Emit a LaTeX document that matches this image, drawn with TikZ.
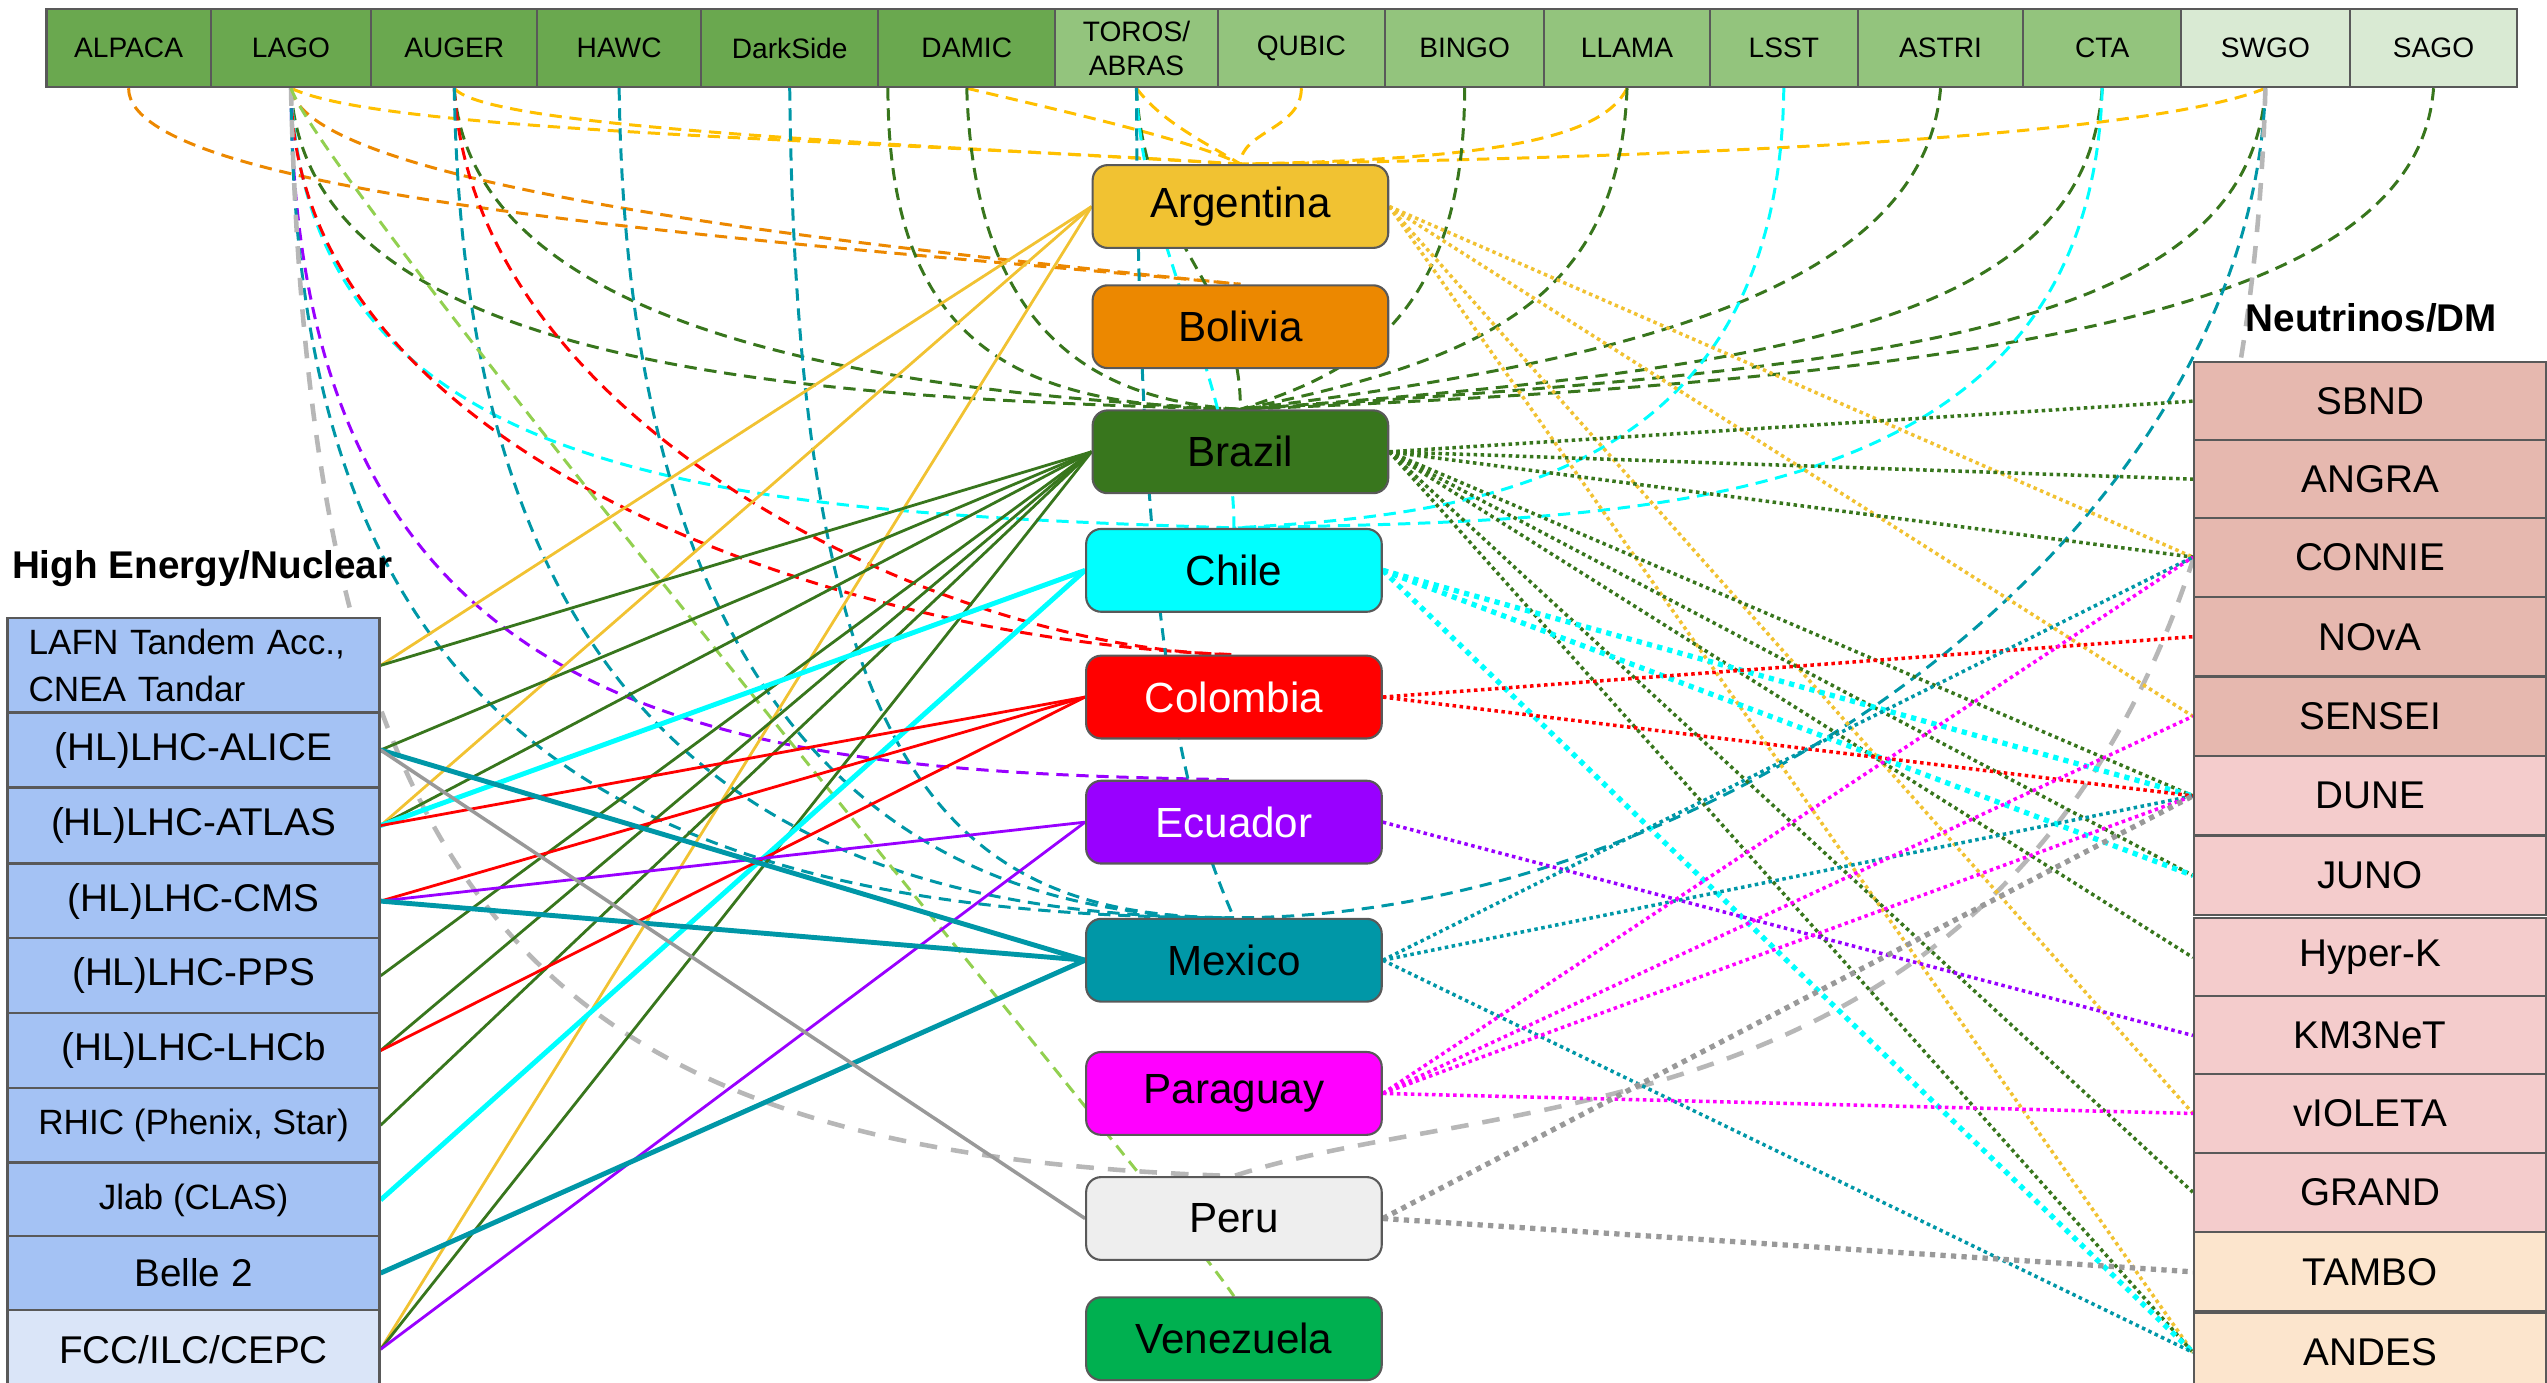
\documentclass[tikz,border=0pt]{standalone}
\usepackage{fontspec}
\setmainfont{Liberation Sans}
\usepackage{tikz}
\usetikzlibrary{positioning,calc,backgrounds}
\definecolor{topdark}  {RGB}{106,168, 79}
\definecolor{toplight} {RGB}{147,196,125}
\definecolor{toppale}  {RGB}{217,234,211}
\definecolor{heblue}   {RGB}{164,194,244}
\definecolor{hepale}   {RGB}{218,229,248}
\definecolor{nurose}   {RGB}{230,184,175}
\definecolor{nupink}   {RGB}{244,204,204}
\definecolor{nupeach}  {RGB}{252,229,205}
\definecolor{argentina}{RGB}{241,194, 50}
\definecolor{argdash}  {RGB}{255,192,  0}
\definecolor{bolivia}  {RGB}{236,136,  0}
\definecolor{brazil}   {RGB}{ 56,118, 29}
\definecolor{chile}    {RGB}{  0,255,255}
\definecolor{colombia} {RGB}{255,  0,  0}
\definecolor{ecuador}  {RGB}{153,  0,255}
\definecolor{mexico}   {RGB}{  0,151,167}
\definecolor{paraguay} {RGB}{255,  0,255}
\definecolor{peru}     {RGB}{238,238,238}
\definecolor{perusolid}{RGB}{153,153,153}
\definecolor{perudash} {RGB}{183,183,183}
\definecolor{venezuela}{RGB}{  0,176, 80}
\definecolor{vendash}  {RGB}{146,208, 80}
\definecolor{edge}     {RGB}{ 89, 89, 89}

\begin{document}
\begin{tikzpicture}[
  x=0.16244mm, y=-0.16244mm,
  font=\fontsize{11}{13}\selectfont,
  facility/.style={draw=edge,line width=0.6pt,fill=topdark,inner sep=0pt,minimum height=7.8mm,align=center,font=\fontsize{8}{9.7}\selectfont},
  hecomponent/.style={draw=edge,line width=0.6pt,fill=heblue,inner sep=0pt,minimum width=37.2mm,minimum height=7.5mm,align=center},
  nucomponent/.style={draw=edge,line width=0.6pt,fill=nurose,inner sep=0pt,minimum width=35.25mm,minimum height=7.9mm,align=center},
  country/.style={draw=edge,line width=0.6pt,rounded corners=1.5mm,inner sep=0pt,minimum width=29.56mm,minimum height=8.28mm,font=\fontsize{12}{14}\selectfont},
  header/.style={font=\fontsize{11}{13}\selectfont\bfseries,inner sep=0pt},
  small/.style={font=\fontsize{10}{13.4}\selectfont},
  dashlink/.style={line width=0.85pt,dash pattern=on 3.5pt off 2.2pt},
  graydash/.style={line width=1.3pt,dash pattern=on 5pt off 4pt,perudash},
  solidlink/.style={line width=0.8pt},
  heavylink/.style={line width=1.4pt},
  dotlink/.style={line width=1pt,dash pattern=on 1pt off 1pt},
  heavydot/.style={line width=1.5pt,dash pattern=on 1.5pt off 1.5pt},
]

  \useasboundingbox (0,0) rectangle (1568,851);

  % Facilities on top
  \node[below right,facility,minimum width=16.41mm] (alpaca) at (28,5) {ALPACA};
  \node[below right,facility,minimum width=16.08mm] (lago) at (129,5) {LAGO};
  \node[below right,facility,minimum width=16.57mm] (auger) at (228,5) {AUGER};
  \node[below right,facility,minimum width=16.41mm] (hawc) at (330,5) {HAWC};
  \node[below right,facility,minimum width=17.71mm] (darkside) at (431,5) {DarkSide};
  \node[below right,facility,minimum width=17.71mm] (damic) at (540,5) {DAMIC};
  \node[below right,facility,fill=toplight,minimum width=16.24mm] (toros) at (649,5) {TOROS/\\ABRAS};
  \node[below right,facility,fill=toplight,minimum width=16.73mm] (qubic) at (749,5) {QUBIC};
  \node[below right,facility,fill=toplight,minimum width=15.92mm] (bingo) at (852,5) {BINGO};
  \node[below right,facility,fill=toplight,minimum width=16.57mm] (llama) at (950,5) {LLAMA};
  \node[below right,facility,fill=toplight,minimum width=14.78mm] (lsst) at (1052,5) {LSST};
  \node[below right,facility,fill=toplight,minimum width=16.57mm] (astri) at (1143,5) {ASTRI};
  \node[below right,facility,fill=toplight,minimum width=15.76mm] (cta) at (1245,5) {CTA};
  \node[below right,facility,fill=toppale,minimum width=16.89mm] (swgo) at (1342,5) {SWGO};
  \node[below right,facility,fill=toppale,minimum width=16.73mm] (sago) at (1446,5) {SAGO};

  % High energy / nuclear column
  \node[right,header] (helabel) at (7,350) {High Energy/Nuclear};
  \node[below right,hecomponent,minimum height=9.42mm,align=left,text width=33mm,small] (lafn) at (4,380) {LAFN Tandem Acc.,\\CNEA Tandar};
  \node[below right,hecomponent] (alice) at (4,438) {(HL)LHC-ALICE};
  \node[below right,hecomponent] (atlas) at (4,484.5) {(HL)LHC-ATLAS};
  \node[below right,hecomponent] (cms) at (4,531) {(HL)LHC-CMS};
  \node[below right,hecomponent] (pps) at (4,577) {(HL)LHC-PPS};
  \node[below right,hecomponent] (lhcb) at (4,623) {(HL)LHC-LHCb};
  \node[below right,hecomponent,small] (rhic) at (4,669) {RHIC (Phenix, Star)};
  \node[below right,hecomponent,small] (jlab) at (4,715) {Jlab (CLAS)};
  \node[below right,hecomponent] (belle) at (4,760) {Belle 2};
  \node[below right,hecomponent,fill=hepale,minimum height=7.8mm] (fcc) at (4,806) {FCC/ILC/CEPC};

  % Neutrinos / DM column
  \node[right,header] (nulabel) at (1382,196) {Neutrinos/DM};
  \node[below right,nucomponent] (sbnd) at (1350,222) {SBND};
  \node[below right,nucomponent] (angra) at (1350,270) {ANGRA};
  \node[below right,nucomponent] (connie) at (1350,318) {CONNIE};
  \node[below right,nucomponent] (nova) at (1350,367) {NOvA};
  \node[below right,nucomponent] (sensei) at (1350,416) {SENSEI};
  \node[below right,nucomponent,fill=nupink] (dune) at (1350,465) {DUNE};
  \node[below right,nucomponent,fill=nupink] (juno) at (1350,514) {JUNO};
  \node[below right,nucomponent,fill=nupink] (hyperk) at (1350,564.5) {Hyper-K};
  \node[below right,nucomponent,fill=nupink] (km3net) at (1350,612.5) {KM3NeT};
  \node[below right,nucomponent,fill=nupink] (violeta) at (1350,660.5) {vIOLETA};
  \node[below right,nucomponent,fill=nupink] (grand) at (1350,709) {GRAND};
  \node[below right,nucomponent,fill=nupeach] (tambo) at (1350,758) {TAMBO};
  \node[below right,nucomponent,fill=nupeach] (andes) at (1350,807.6) {ANDES};

  % Countries
  \node[below right,country,fill=argentina] (arg) at (672,101) {Argentina};
  \node[below right,country,fill=bolivia] (bol) at (672,175) {Bolivia};
  \node[below right,country,fill=brazil] (bra) at (672,252) {Brazil};
  \node[below right,country,fill=chile] (chi) at (668,325) {Chile};
  \node[below right,country,fill=colombia,text=white] (col) at (668,403) {Colombia};
  \node[below right,country,fill=ecuador,text=white] (ecu) at (668,480) {Ecuador};
  \node[below right,country,fill=mexico] (mex) at (668,565) {Mexico};
  \node[below right,country,fill=paraguay] (par) at (668,647) {Paraguay};
  \node[below right,country,fill=peru] (per) at (668,724) {Peru};
  \node[below right,country,fill=venezuela] (ven) at (668,798) {Venezuela};

  \begin{scope}[on background layer]
  % Dashed links from the facilities
  \draw[dashlink,argdash] (lago.south) .. controls +(57,27) and +(-250,-16) .. (arg.north);
  \draw[dashlink,argdash] (auger.south) .. controls +(20,25) and +(-200,-12) .. (arg.north);
  \draw[dashlink,argdash] (damic.south) .. controls +(50,12) and +(-30,-15) .. (arg.north);
  \draw[dashlink,argdash] (toros.south) .. controls +(15,20) and +(-25,-15) .. (arg.north);
  \draw[dashlink,argdash] (qubic.south) .. controls +(0,25) and +(0,-20) .. (arg.north);
  \draw[dashlink,argdash] (llama.south) .. controls +(-15,30) and +(160,-3) .. (arg.north);
  \draw[dashlink,argdash] (swgo.south) .. controls +(-60,25) and +(350,-5) .. (arg.north);

  \draw[dashlink,bolivia] (alpaca.south) .. controls +(0,70) and +(-263,-25) .. (bol.north);
  \draw[dashlink,bolivia] (lago.south) .. controls +(10,60) and +(-250,-25) .. (bol.north);

  \draw[dashlink,brazil] (lago.south) .. controls +(10,175) and +(-263,-7) .. (bra.north);
  \draw[dashlink,brazil] (auger.south) .. controls +(10,150) and +(-220,-10) .. (bra.north);
  \draw[dashlink,brazil] ($(damic.south west)!0.06!(damic.south east)$) .. controls +(0,170) and +(-123,-2) .. (bra.north);
  \draw[dashlink,brazil] (damic.south) .. controls +(5,160) and +(-80,-5) .. (bra.north);
  \draw[dashlink,brazil] (toros.south) .. controls +(5,97) and +(0,-80) .. (bra.north);
  \draw[dashlink,brazil] (bingo.south) .. controls +(0,150) and +(60,-20) .. (bra.north);
  \draw[dashlink,brazil] (llama.south) .. controls +(-5,130) and +(150,-30) .. (bra.north);
  \draw[dashlink,brazil] (astri.south) .. controls +(-10,120) and +(250,-30) .. (bra.north);
  \draw[dashlink,brazil] (cta.south) .. controls +(-10,140) and +(350,-25) .. (bra.north);
  \draw[dashlink,brazil] (swgo.south) .. controls +(-10,150) and +(400,-25) .. (bra.north);
  \draw[dashlink,brazil] (sago.south) .. controls +(-10,130) and +(500,-20) .. (bra.north);

  \draw[dashlink,chile] (lago.south) .. controls +(10,245) and +(-308,-10) .. (chi.north);
  \draw[dashlink,chile] (toros.south) .. controls +(3,97) and +(0,-95) .. (chi.north);
  \draw[dashlink,chile] (lsst.south) .. controls +(-3,245) and +(142,-8) .. (chi.north);
  \draw[dashlink,chile] (cta.south) .. controls +(-8,267) and +(242,-5) .. (chi.north);

  \draw[dashlink,colombia] (lago.south) .. controls +(1.5,227) and +(-238.5,-8) .. (col.north);
  \draw[dashlink,colombia] (auger.south) .. controls +(11,207) and +(-178.5,-3) .. (col.north);

  \draw[dashlink,ecuador] (lago.south) .. controls +(1.5,397) and +(-308.5,-5) .. (ecu.north);

  \draw[dashlink,mexico] (lago.south) .. controls +(1.5,367) and +(-408.5,0) .. (mex.north);
  \draw[dashlink,mexico] (auger.south) .. controls +(6,367) and +(-308.5,0) .. (mex.north);
  \draw[dashlink,mexico] (hawc.south) .. controls +(4.5,347) and +(-238.5,0) .. (mex.north);
  \draw[dashlink,mexico] (darkside.south) .. controls +(4.5,417) and +(-178.5,0) .. (mex.north);
  \draw[dashlink,mexico] (toros.south) .. controls +(1,347) and +(-28.5,-65) .. (mex.north);
  \draw[dashlink,mexico] (swgo.south) .. controls +(-9,277) and +(291.5,0) .. (mex.north);

  \draw[graydash] (lago.south) .. controls +(11.5,507) and +(-428.5,-14) .. (per.north);
  \draw[graydash] (swgo.south) .. controls +(-19,667) and +(191.5,-64) .. (per.north);

  \draw[dashlink,vendash] (lago.south) .. controls +(20,60) and +(-40,-60) .. (ven.north);

  % Solid links to high energy / nuclear
  \draw[solidlink,argentina] (lafn.east) -- (arg.west);
  \draw[solidlink,argentina] (atlas.east) -- (arg.west);
  \draw[solidlink,argentina] (fcc.east) -- (arg.west);

  \draw[solidlink,brazil] (lafn.east) -- (bra.west);
  \draw[solidlink,brazil] (alice.east) -- (bra.west);
  \draw[solidlink,brazil] (atlas.east) -- (bra.west);
  \draw[solidlink,brazil] (pps.east) -- (bra.west);
  \draw[solidlink,brazil] (lhcb.east) -- (bra.west);
  \draw[solidlink,brazil] (rhic.east) -- (bra.west);
  \draw[solidlink,brazil] (fcc.east) -- (bra.west);

  \draw[heavylink,chile] (atlas.east) -- (chi.west);
  \draw[heavylink,chile] (jlab.east) -- (chi.west);

  \draw[solidlink,colombia] (atlas.east) -- (col.west);
  \draw[solidlink,colombia] (cms.east) -- (col.west);
  \draw[solidlink,colombia] (lhcb.east) -- (col.west);

  \draw[solidlink,ecuador] (cms.east) -- (ecu.west);
  \draw[solidlink,ecuador] (fcc.east) -- (ecu.west);

  \draw[heavylink,mexico] (alice.east) -- (mex.west);
  \draw[heavylink,mexico] (cms.east) -- (mex.west);
  \draw[heavylink,mexico] (belle.east) -- (mex.west);

  \draw[line width=1pt,perusolid] (alice.east) -- (per.west);

  % Dotted links to neutrinos / DM
  \draw[dotlink,argentina] (arg.east) -- (connie.west);
  \draw[dotlink,argentina] (arg.east) -- (sensei.west);
  \draw[dotlink,argentina] (arg.east) -- (violeta.west);
  \draw[dotlink,argentina] (arg.east) -- (andes.west);

  \draw[dotlink,brazil] (bra.east) -- (sbnd.west);
  \draw[dotlink,brazil] (bra.east) -- (angra.west);
  \draw[dotlink,brazil] (bra.east) -- (connie.west);
  \draw[dotlink,brazil] (bra.east) -- (dune.west);
  \draw[dotlink,brazil] (bra.east) -- (juno.west);
  \draw[dotlink,brazil] (bra.east) -- (hyperk.west);
  \draw[dotlink,brazil] (bra.east) -- (grand.west);
  \draw[dotlink,brazil] (bra.east) -- (andes.west);

  \draw[heavydot,chile] (chi.east) -- (dune.west);
  \draw[heavydot,chile] (chi.east) -- (juno.west);
  \draw[heavydot,chile] (chi.east) -- (andes.west);

  \draw[dotlink,colombia] (col.east) -- (nova.west);
  \draw[dotlink,colombia] (col.east) -- (dune.west);

  \draw[dotlink,ecuador] (ecu.east) -- (km3net.west);

  \draw[dotlink,mexico] (mex.east) -- (connie.west);
  \draw[dotlink,mexico] (mex.east) -- (dune.west);
  \draw[dotlink,mexico] (mex.east) -- (andes.west);

  \draw[dotlink,paraguay] (par.east) -- (connie.west);
  \draw[dotlink,paraguay] (par.east) -- (sensei.west);
  \draw[dotlink,paraguay] (par.east) -- (dune.west);
  \draw[dotlink,paraguay] (par.east) -- (violeta.west);

  \draw[heavydot,perusolid] (per.east) -- (dune.west);
  \draw[heavydot,perusolid] (per.east) -- (tambo.west);
  \end{scope}

\end{tikzpicture}
\end{document}
